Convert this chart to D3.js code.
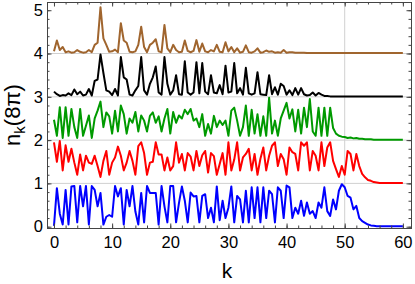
<!DOCTYPE html>
<html>
<head>
<meta charset="utf-8">
<script src="https://cdn.jsdelivr.net/npm/d3@7"></script>
<style>
  body { margin: 0; background: #fff; }
  text { font-family: "Liberation Sans", Arial, sans-serif; }
</style>
</head>
<body>
<div id="chart"></div>
<script>
// k grid (step 0.5 from 0 to 60)
const kValues = d3.range(0, 60.5, 0.5);

// series values (relative to their baseline offset)
const blueVals = [0.02,0.89,0.3,0.05,0.85,0.05,0.93,0.94,0.1,0.94,0.47,0.94,0.05,0.94,0.85,0.47,0.78,0.05,0.23,0.27,
  0.23,0.94,0.7,0.89,0.05,0.85,0.47,0.94,0.35,0.05,0.78,0.1,0.94,0.78,0.78,0.78,0.05,0.94,0.47,0.1,
  0.94,0.94,0.1,0.55,0.93,0.6,0.1,0.79,0.7,0.71,0.1,0.71,0.75,0.2,0.44,0.1,0.93,0.15,0.6,0.2,
  0.44,0.93,0.1,0.71,0.63,0.1,0.83,0.1,0.91,0.2,0.91,0.1,0.91,0.2,0.83,0.75,0.1,0.91,0.83,0.2,
  0.95,0.91,0.2,0.44,0.3,0.6,0.25,0.56,0.3,0.36,0.2,0.56,0.44,0.91,0.36,0.25,0.63,0.4,0.83,0.98,
  0.91,0.71,0.67,0.4,0.48,0.2,0.13,0.09,0.05,0.03,0.02,0.01,0.01,0.01,0.01,0.01,0.01,0.01,0.01,0.01,0.01];

const redVals = [0.95,0.5,0.98,0.3,0.88,0.5,0.8,0.48,0.2,0.67,0.3,0.64,0.48,0.45,0.64,0.4,0.15,0.52,0.75,0.2,
  0.48,0.6,0.85,0.64,0.3,0.48,0.75,0.52,0.2,0.86,0.95,0.7,0.2,0.48,0.5,0.95,0.67,0.67,0.3,0.6,
  0.3,0.4,0.95,0.48,0.68,0.3,0.7,0.62,0.3,0.75,0.4,0.65,0.75,0.25,0.7,0.63,0.2,0.45,0.7,0.2,
  0.95,0.3,0.55,0.95,0.3,0.6,0.68,0.8,0.3,0.68,0.2,0.57,0.83,0.3,0.64,0.87,0.95,0.4,0.68,0.56,
  0.2,0.83,0.72,0.68,0.3,0.95,0.87,0.95,0.3,0.75,0.64,0.3,0.95,0.4,0.83,0.95,0.52,0.33,0.15,0.4,
  0.2,0.75,0.68,0.3,0.68,0.4,0.22,0.14,0.08,0.06,0.03,0.02,0.01,0.01,0.01,0.01,0.01,0.01,0.01,0.01,0.01];

const greenVals = [0.47,0.1,0.76,0.05,0.76,0.1,0.72,0.3,0.05,0.72,0.1,0.33,0.57,0.05,0.5,0.68,0.89,0.3,0.64,0.55,
  0.15,0.68,0.2,0.8,0.6,0.15,0.5,0.4,0.65,0.2,0.57,0.45,0.2,0.56,0.64,0.4,0.55,0.2,0.5,0.72,
  0.15,0.65,0.4,0.57,0.5,0.7,0.6,0.72,0.45,0.5,0.3,0.6,0.1,0.37,0.15,0.56,0.3,0.45,0.35,0.45,
  0.1,0.68,0.75,0.45,0.1,0.3,0.8,0.1,0.7,0.15,0.6,0.1,0.55,0.1,0.98,0.15,0.45,0.1,0.5,0.68,
  0.86,0.5,0.71,0.2,0.7,0.15,0.75,0.3,0.95,0.2,0.1,0.75,0.1,0.75,0.1,0.75,0.28,0.15,0.1,0.08,
  0.07,0.05,0.06,0.04,0.05,0.03,0.03,0.02,0.02,0.02,0.01,0.01,0.01,0.01,0.01,0.01,0.01,0.01,0.01,0.01,0.01];

const blackVals = [0.12,0.06,0.02,0.04,0.03,0.08,0.04,0.17,0.06,0.12,0.03,0.05,0.18,0.03,0.37,0.4,0.98,0.55,0.15,0.12,
  0.04,0.18,0.03,0.92,0.45,0.4,0.05,0.03,0.15,0.25,0.92,0.15,0.05,0.3,0.45,0.7,0.1,0.05,0.92,0.3,
  0.05,0.15,0.5,0.06,0.05,0.82,0.1,0.05,0.1,0.8,0.08,0.78,0.12,0.06,0.5,0.1,0.08,0.27,0.06,0.72,
  0.1,0.12,0.78,0.08,0.2,0.05,0.67,0.08,0.05,0.08,0.57,0.06,0.05,0.04,0.5,0.06,0.22,0.05,0.3,0.25,
  0.05,0.15,0.04,0.2,0.05,0.2,0.06,0.03,0.04,0.1,0.03,0.09,0.05,0.02,0.02,0.01,0.01,0.01,0.01,0.01,
  0.01,0.01,0.01,0.01,0.01,0.01,0.01,0.01,0.01,0.01,0.01,0.01,0.01,0.01,0.01,0.01,0.01,0.01,0.01,0.01,0.01];

const brownVals = [0.05,0.3,0.08,0.15,0.03,0.05,0.02,0.03,0.08,0.04,0.02,0.03,0.08,0.03,0.2,0.25,1.07,0.35,0.2,0.04,
  0.05,0.09,0.03,0.7,0.3,0.25,0.04,0.03,0.05,0.2,0.62,0.15,0.03,0.2,0.25,0.33,0.05,0.03,0.66,0.12,
  0.03,0.2,0.08,0.03,0.04,0.3,0.06,0.03,0.06,0.31,0.04,0.23,0.05,0.03,0.08,0.05,0.2,0.04,0.03,0.26,
  0.05,0.15,0.03,0.12,0.02,0.04,0.19,0.03,0.02,0.05,0.12,0.02,0.03,0.07,0.04,0.05,0.02,0.03,0.02,0.08,
  0.02,0.03,0.03,0.02,0.02,0.015,0.02,0.01,0.01,0.01,0.01,0.01,0.01,0.01,0.01,0.01,0.01,0.01,0.01,0.01,
  0.01,0.01,0.01,0.01,0.01,0.01,0.01,0.01,0.01,0.01,0.01,0.01,0.01,0.01,0.01,0.01,0.01,0.01,0.01,0.01,0.01];

const seriesVals = [blueVals, redVals, greenVals, blackVals, brownVals];
const seriesOffsets = [0, 1, 2, 3, 4];
const seriesColors = ["#0000ff", "#ff0000", "#009a00", "#000000", "#a0652e"];

const xTicks = [0, 10, 20, 30, 40, 50, 60];
const yTicks = [0, 1, 2, 3, 4, 5];
const hGrid = [1, 2, 3, 4];
const vGrid = [50];

// dimensions
const W = 415, H = 284;
const pLeft = 47, pRight = 411, pTop = 2, pBottom = 228;

const svg = d3.select("#chart").append("svg")
  .attr("width", W).attr("height", H);

const x = d3.scaleLinear().domain([-1.2, 61.4]).range([pLeft, pRight]);
const y = d3.scaleLinear().domain([-0.03, 5.19]).range([pBottom, pTop]);

svg.append("defs").append("clipPath").attr("id", "clip")
  .append("rect").attr("x", pLeft).attr("y", pTop)
  .attr("width", pRight - pLeft).attr("height", pBottom - pTop);

// grid lines
svg.append("g").selectAll("line").data(hGrid).join("line")
  .attr("x1", pLeft).attr("x2", pRight)
  .attr("y1", d => y(d)).attr("y2", d => y(d))
  .attr("stroke", "#d0d0d0").attr("stroke-width", 1);
svg.append("g").selectAll("line").data(vGrid).join("line")
  .attr("y1", pTop).attr("y2", pBottom)
  .attr("x1", d => x(d)).attr("x2", d => x(d))
  .attr("stroke", "#d0d0d0").attr("stroke-width", 1);

// series lines
const line = d3.line()
  .x((d, i) => x(kValues[i]))
  .y(d => y(d));

const plot = svg.append("g").attr("clip-path", "url(#clip)");
seriesVals.forEach((vals, s) => {
  plot.append("path")
    .datum(vals.map(v => v + seriesOffsets[s]))
    .attr("fill", "none")
    .attr("stroke", seriesColors[s])
    .attr("stroke-width", 2)
    .attr("stroke-linejoin", "round")
    .attr("d", line);
});

// frame axes with inward ticks
const frameColor = "#444";
const minorX = d3.range(0, 61, 2);
const minorY = d3.range(0, 26).map(i => i / 5);
const axB = svg.append("g").attr("transform", `translate(0,${pBottom})`)
  .call(d3.axisBottom(x).tickValues(minorX).tickSize(-2.5).tickFormat(""));
const axB2 = svg.append("g").attr("transform", `translate(0,${pBottom})`)
  .call(d3.axisBottom(x).tickValues(xTicks).tickSize(-4.5).tickPadding(8).tickFormat(d3.format("d")));
const axT = svg.append("g").attr("transform", `translate(0,${pTop})`)
  .call(d3.axisTop(x).tickValues(minorX).tickSize(-2.5).tickFormat(""));
const axT2 = svg.append("g").attr("transform", `translate(0,${pTop})`)
  .call(d3.axisTop(x).tickValues(xTicks).tickSize(-4.5).tickFormat(""));
const axL = svg.append("g").attr("transform", `translate(${pLeft},0)`)
  .call(d3.axisLeft(y).tickValues(minorY).tickSize(-2.5).tickFormat(""));
const axL2 = svg.append("g").attr("transform", `translate(${pLeft},0)`)
  .call(d3.axisLeft(y).tickValues(yTicks).tickSize(-4.5).tickPadding(4).tickFormat(d3.format("d")));
const axR = svg.append("g").attr("transform", `translate(${pRight},0)`)
  .call(d3.axisRight(y).tickValues(minorY).tickSize(-2.5).tickFormat(""));
const axR2 = svg.append("g").attr("transform", `translate(${pRight},0)`)
  .call(d3.axisRight(y).tickValues(yTicks).tickSize(-4.5).tickFormat(""));

[axB, axB2, axT, axT2, axL, axL2, axR, axR2].forEach(g => {
  g.selectAll("path.domain").attr("stroke", frameColor).attr("stroke-width", 1);
  g.selectAll(".tick line").attr("stroke", frameColor);
  g.selectAll(".tick text").attr("fill", "#000").style("font-size", "16.5px");
});

// axis titles
svg.append("text")
  .attr("x", 227).attr("y", 278)
  .attr("text-anchor", "middle")
  .style("font-size", "21px")
  .text("k");

const yl = svg.append("text")
  .attr("transform", `translate(20,115) rotate(-90)`)
  .attr("text-anchor", "middle")
  .style("font-size", "22px");
yl.append("tspan").text("n");
yl.append("tspan").attr("dy", 5).style("font-size", "15px").text("k");
yl.append("tspan").attr("dy", -5).text("(8π)");
</script>
</body>
</html>
